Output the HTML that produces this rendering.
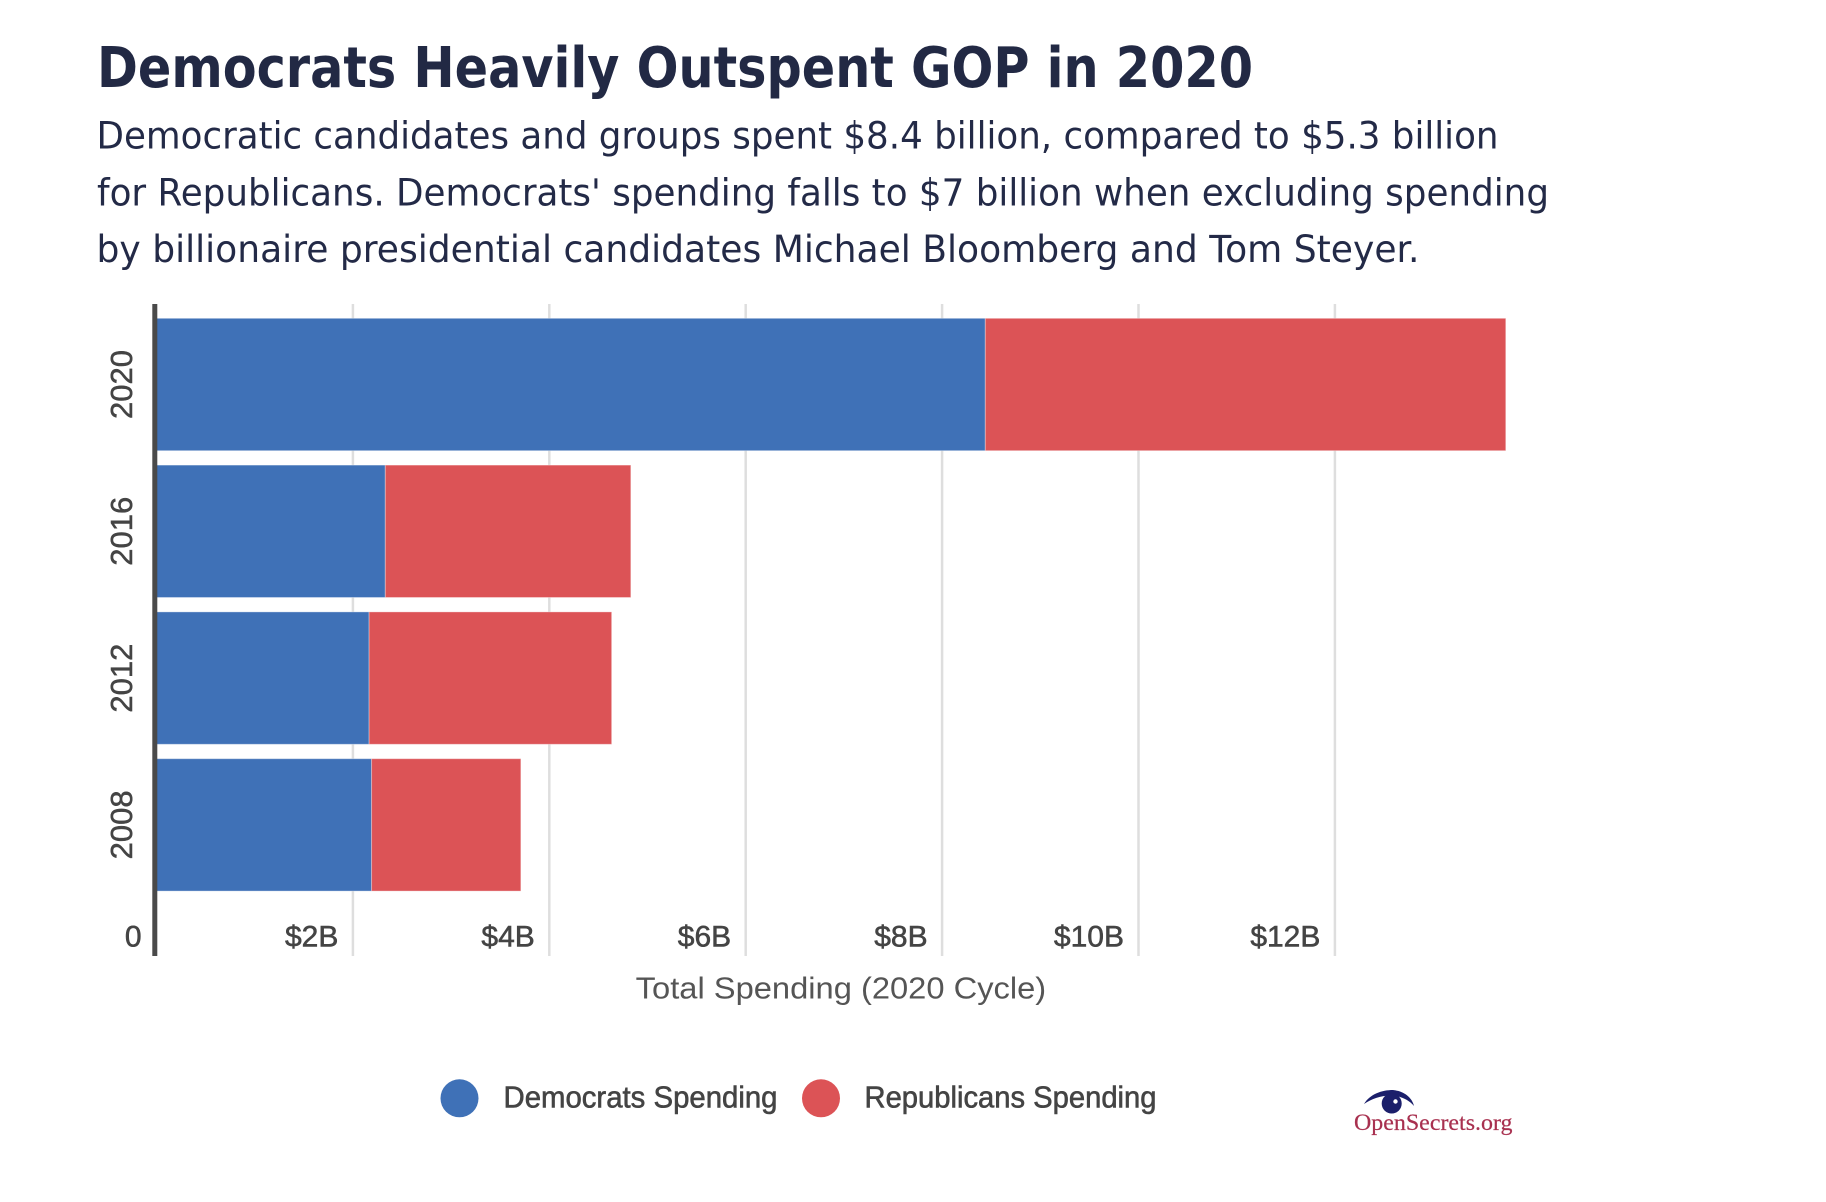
<!DOCTYPE html>
<html lang="en">
<head>
<meta charset="utf-8">
<title>Democrats Heavily Outspent GOP in 2020</title>
<style>
  html, body { margin: 0; padding: 0; background: #ffffff; }
  body { width: 1826px; height: 1202px; overflow: hidden; }
  svg { display: block; font-family: "Liberation Sans", sans-serif; }
</style>
</head>
<body>
<svg id="chart" xmlns="http://www.w3.org/2000/svg" width="1826" height="1202" viewBox="0 0 1826 1202">
  <text x="97" y="86.8" font-family="'DejaVu Sans', sans-serif" font-size="56" font-weight="700" fill="#222944" textLength="1156" lengthAdjust="spacingAndGlyphs">Democrats Heavily Outspent GOP in 2020</text>
  <text x="96.5" y="148.6" font-family="'DejaVu Sans', sans-serif" font-size="37" fill="#232a47" textLength="1402" lengthAdjust="spacingAndGlyphs">Democratic candidates and groups spent $8.4 billion, compared to $5.3 billion</text>
  <text x="97" y="205.3" font-family="'DejaVu Sans', sans-serif" font-size="37" fill="#232a47" textLength="1452" lengthAdjust="spacingAndGlyphs">for Republicans. Democrats' spending falls to $7 billion when excluding spending</text>
  <text x="96.5" y="261.9" font-family="'DejaVu Sans', sans-serif" font-size="37" fill="#232a47" textLength="1323" lengthAdjust="spacingAndGlyphs">by billionaire presidential candidates Michael Bloomberg and Tom Steyer.</text>

  <g id="grid"></g>
  <g id="bars"></g>
  <rect x="152.3" y="304" width="5" height="652" fill="#4a4a4a"></rect>
  <g id="x-ticks"></g>
  <g id="y-ticks"></g>

  <text x="635.7" y="998.3" font-size="31" fill="#555555" textLength="410.5" lengthAdjust="spacingAndGlyphs">Total Spending (2020 Cycle)</text>

  <g>
    <g>
      <circle cx="459.5" cy="1098.3" r="19" fill="#3f71b7"></circle>
      <text x="503.5" y="1107.7" font-size="30.5" fill="#444444" stroke="#444444" stroke-width="0.6" textLength="274" lengthAdjust="spacingAndGlyphs">Democrats Spending</text>
    </g>
    <g>
      <circle cx="821" cy="1098.3" r="19" fill="#dc5356"></circle>
      <text x="864.5" y="1107.7" font-size="30.5" fill="#444444" stroke="#444444" stroke-width="0.6" textLength="292" lengthAdjust="spacingAndGlyphs">Republicans Spending</text>
    </g>
  </g>

  <g>
    <path d="M1364 1104 C1370 1094 1382 1090 1393 1090 C1403 1091 1412 1097 1414 1106 C1409 1100 1401 1096 1391 1095.5 C1381 1095.5 1371 1099 1364 1104 Z" fill="#1b1f6b"></path>
    <circle cx="1391.7" cy="1103.5" r="10" fill="#1b1f6b"></circle>
    <circle cx="1395.5" cy="1101.5" r="2.2" fill="#ffffff"></circle>
    <text x="1354" y="1130" font-family="'Liberation Serif', serif" font-size="23.5" fill="#a8304f" stroke="#a8304f" stroke-width="0.2" textLength="158.5" lengthAdjust="spacingAndGlyphs">OpenSecrets.org</text>
  </g>
</svg>

<script>
const years = ["2020", "2016", "2012", "2008"];
const democratsSpending = [8.44, 2.33, 2.165, 2.19];
const republicansSpending = [5.30, 2.50, 2.47, 1.52];
const tickValues = [0, 2, 4, 6, 8, 10, 12];
const tickLabels = ["0", "$2B", "$4B", "$6B", "$8B", "$10B", "$12B"];

const SVG_NS = "http://www.w3.org/2000/svg";

function xScale(v) {
  return 156.5 + v * 98.2;
}
function yBandTop(i) {
  return 318.3 + i * 146.8;
}
const bandHeight = 132.4;

function make(tag, attrs, parent) {
  const el = document.createElementNS(SVG_NS, tag);
  for (const key in attrs) {
    el.setAttribute(key, attrs[key]);
  }
  parent.appendChild(el);
  return el;
}

const gridGroup = document.getElementById("grid");
const barsGroup = document.getElementById("bars");
const xTickGroup = document.getElementById("x-ticks");
const yTickGroup = document.getElementById("y-ticks");

tickValues.forEach(function (v, i) {
  const x = xScale(v);
  if (v !== 0) {
    const line = make("line", { x1: x, x2: x, y1: 304, y2: 956, stroke: "#dedede", "stroke-width": 2.5 }, gridGroup);
    
    
  }
  const offset = v === 0 ? 15 : 14.5;
  const label = make("text", { x: x - offset, y: 946.7, "text-anchor": "end", "font-size": 30, fill: "#444444", stroke: "#444444", "stroke-width": 0.55 }, xTickGroup);
  label.textContent = tickLabels[i];
  
  
});

years.forEach(function (year, i) {
  const top = yBandTop(i);
  const demEnd = xScale(democratsSpending[i]);
  const repEnd = xScale(democratsSpending[i] + republicansSpending[i]);

  const demBar = make("rect", { x: xScale(0), y: top, width: demEnd - xScale(0), height: bandHeight, fill: "#3f71b7", stroke: "rgba(255,255,255,0.35)", "stroke-width": 1 }, barsGroup);
  
  

  const repBar = make("rect", { x: demEnd, y: top, width: repEnd - demEnd, height: bandHeight, fill: "#dc5356", stroke: "rgba(255,255,255,0.35)", "stroke-width": 1 }, barsGroup);
  
  

  const cy = top + bandHeight / 2;
  const yLabel = make("text", { transform: "translate(132.2," + cy + ") rotate(-90)", "text-anchor": "middle", "font-size": 31, fill: "#444444", stroke: "#444444", "stroke-width": 0.5 }, yTickGroup);
  yLabel.textContent = year;
  
  
});
</script>
</body>
</html>
